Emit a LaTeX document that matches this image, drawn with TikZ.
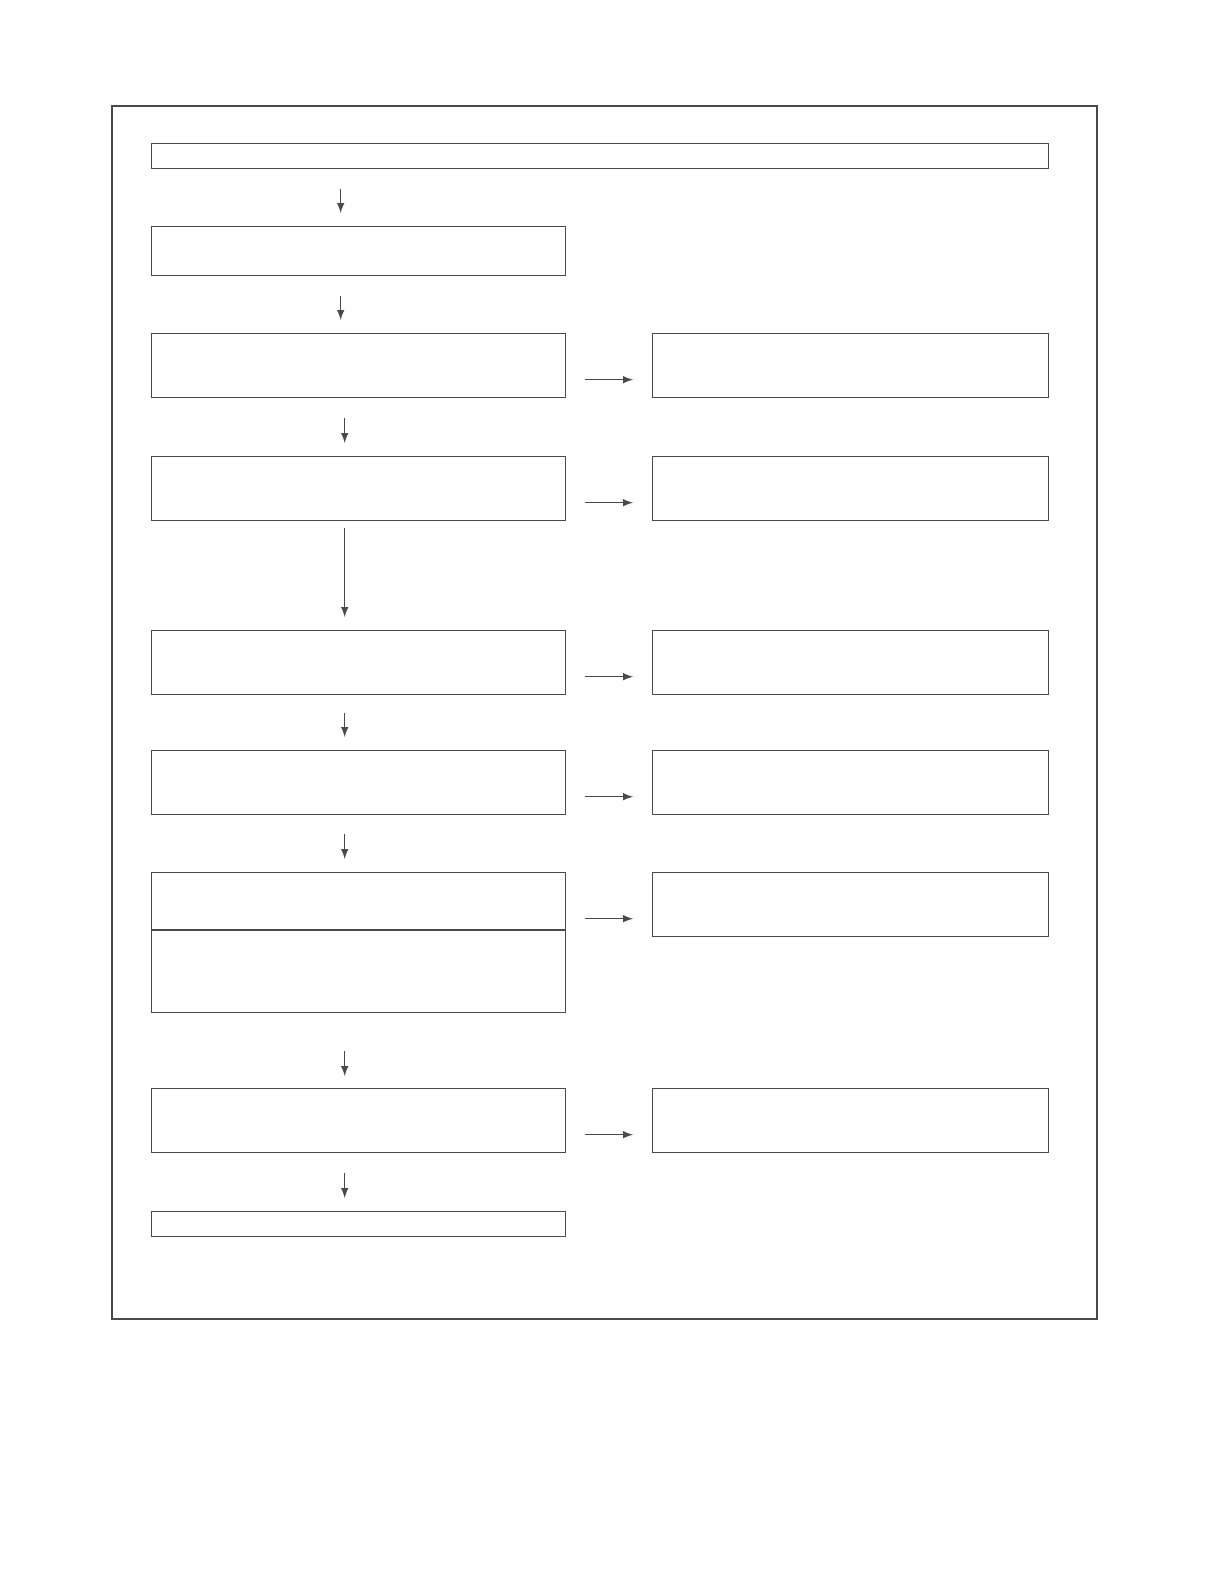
\documentclass[tikz,border=0pt]{standalone}
\usepackage{tikz}
\usetikzlibrary{arrows,calc,positioning}
\definecolor{linegray}{HTML}{4A4A4A}
\tikzset{%
	process/.style  = {draw=linegray, rectangle, line width=0.7pt, inner sep=0pt, anchor=north west, minimum width=207pt, minimum height=32pt},
	narrow/.style   = {process, minimum height=12.5pt}, % one-line box
	arrow/.style    = {draw=linegray, line width=0.7pt, -latex},
	down/.style     = {arrow, shorten <=10pt, shorten >=6.5pt},
	side/.style     = {arrow, shorten <=9.5pt, shorten >=9.5pt},
}
\begin{document}
\begin{tikzpicture}[x=0.5pt,y=-0.5pt]
	\useasboundingbox (0,0) rectangle (1219,1584);
	\draw[linegray, line width=1pt] (112,106) rectangle (1097,1319);
	
	% left column
	\node[narrow, minimum width=448.5pt] (top) at (151,143) {};
	\node[process, minimum height=24.5pt] (check) at (151,226) {};
	\node[process] (stepA) at (151,333) {};
	\node[process] (stepB) at (151,456) {};
	\node[process] (stepC) at (151,630) {};
	\node[process] (stepD) at (151,750) {};
	\node[process, minimum height=70pt] (stepE) at (151,872) {};
	\draw[linegray, line width=0.7pt] (stepE.west |- 0,930) -- (stepE.east |- 0,930);
	\node[process] (stepF) at (151,1088) {};
	\node[narrow] (finish) at (151,1211) {};
	
	% right column
	\node[process, minimum width=198pt] (outA) at (652,333) {};
	\node[process, minimum width=198pt] (outB) at (652,456) {};
	\node[process, minimum width=198pt] (outC) at (652,630) {};
	\node[process, minimum width=198pt] (outD) at (652,750) {};
	\node[process, minimum width=198pt] (outE) at (652,872) {};
	\node[process, minimum width=198pt] (outF) at (652,1088) {};
	
	% downward flow
	\draw[down] ([xshift=-9pt]check.north |- top.south) -- ([xshift=-9pt]check.north);
	\draw[down] ([xshift=-9pt]check.south) -- ([xshift=-9pt]stepA.north);
	\draw[down] ([xshift=-7pt]stepA.south) -- ([xshift=-7pt]stepB.north);
	\draw[down, shorten <=3.5pt] ([xshift=-7pt]stepB.south) -- ([xshift=-7pt]stepC.north);
	\draw[down, shorten <=9pt] ([xshift=-7pt]stepC.south) -- ([xshift=-7pt]stepD.north);
	\draw[down, shorten <=9.5pt] ([xshift=-7pt]stepD.south) -- ([xshift=-7pt]stepE.north);
	\draw[down, shorten <=19pt, shorten >=6pt] ([xshift=-7pt]stepE.south) -- ([xshift=-7pt]stepF.north);
	\draw[down] ([xshift=-7pt]stepF.south) -- ([xshift=-7pt]finish.north);
	
	% side outputs
	\foreach \l/\r in {stepA/outA, stepB/outB, stepC/outC, stepD/outD, stepE/outE, stepF/outF}
		\draw[side] ([yshift=-7pt]\r.west -| \l.east) -- ([yshift=-7pt]\r.west);
\end{tikzpicture}
\end{document}
